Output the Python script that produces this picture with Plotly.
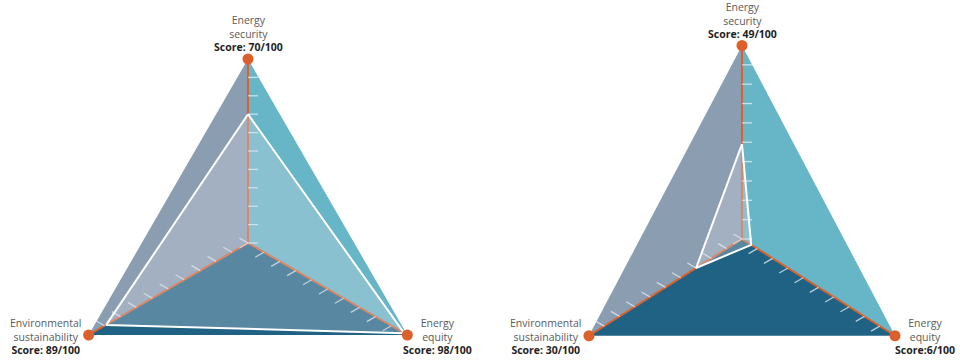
import numpy as np
import plotly.graph_objects as go

# ---------------- data ----------------
categories = ["Energy security", "Energy equity", "Environmental sustainability"]
category_lines = [["Energy", "security"], ["Energy", "equity"], ["Environmental", "sustainability"]]
scores_a = [70, 98, 89]
scores_b = [49, 6, 30]
score_text_a = ["Score: 70/100", "Score: 98/100", "Score: 89/100"]
score_text_b = ["Score: 49/100", "Score:6/100", "Score: 30/100"]
score_max = 100
tick_values = [0, 10, 20, 30, 40, 50, 60, 70, 80, 90]

# ---------------- geometry / style ----------------
AXIS_ANGLES = [90, 330, 210]      # direction of each category axis (deg)
TICK_DIRS = [0, 210, 150]         # direction of the small tick marks (deg)
TICK_PX = 10
SECTORS = [((0, 2), "#8a9db1"), ((0, 1), "#67b6c7"), ((2, 1), "#1f6283")]
ORANGE = "#dc602b"
OVERLAY = "rgba(215,218,228,0.31)"
FONT = "Open Sans"

panels = [
    dict(scores=scores_a, texts=score_text_a, xa="x", ya="y", dom=[0.0, 0.5],
         cx=248, cy=243, sx=184.0, sy=184.0),
    dict(scores=scores_b, texts=score_text_b, xa="x2", ya="y2", dom=[0.5, 1.0],
         cx=742, cy=239, sx=176.7, sy=193.5),
]

W, H = 960, 362
ang = np.radians(AXIS_ANGLES)


def pt(v, k):
    r = v / score_max
    return r * np.cos(ang[k]), r * np.sin(ang[k])


fig = go.Figure()
annotations = []
label_shift = [dict(xs=0, ys=25.5), dict(xs=30, ys=-1), dict(xs=-43, ys=-1)]

for p in panels:
    xa, ya = p["xa"], p["ya"]
    # sector fills
    for (i, j), col in SECTORS:
        xi, yi = pt(score_max, i)
        xj, yj = pt(score_max, j)
        fig.add_trace(go.Scatter(x=[0, xi, xj, 0], y=[0, yi, yj, 0], fill="toself",
                                 fillcolor=col, mode="none", xaxis=xa, yaxis=ya,
                                 hoverinfo="skip"))
    # orange spokes
    for k in range(3):
        xv, yv = pt(score_max, k)
        fig.add_trace(go.Scatter(x=[0, xv], y=[0, yv], mode="lines",
                                 line=dict(color=ORANGE, width=2), xaxis=xa, yaxis=ya,
                                 hoverinfo="skip"))
    # tick marks
    tx, ty = [], []
    for k in range(3):
        d = np.radians(TICK_DIRS[k])
        for tv in tick_values:
            x0, y0 = pt(tv, k)
            tx += [x0, x0 + TICK_PX / p["sx"] * np.cos(d), None]
            ty += [y0, y0 + TICK_PX / p["sy"] * np.sin(d), None]
    fig.add_trace(go.Scatter(x=tx, y=ty, mode="lines",
                             line=dict(color="rgba(235,240,245,0.75)", width=1.3),
                             xaxis=xa, yaxis=ya, hoverinfo="skip"))
    # score triangle
    sx_, sy_ = [], []
    for k in range(3):
        a, b = pt(p["scores"][k], k)
        sx_.append(a)
        sy_.append(b)
    sx_.append(sx_[0])
    sy_.append(sy_[0])
    fig.add_trace(go.Scatter(x=sx_, y=sy_, fill="toself", fillcolor=OVERLAY, mode="lines",
                             line=dict(color="white", width=2), xaxis=xa, yaxis=ya,
                             hoverinfo="skip"))
    # vertex dots
    vx, vy = zip(*[pt(score_max, k) for k in range(3)])
    fig.add_trace(go.Scatter(x=list(vx), y=list(vy), mode="markers",
                             marker=dict(color=ORANGE, size=11), cliponaxis=False,
                             xaxis=xa, yaxis=ya, text=categories, hoverinfo="text"))
    # labels (one text block per axis)
    for k in range(3):
        txt = ("<span style='color:#5a5a5a'>" + "<br>".join(category_lines[k]) +
               "</span><br><b>" + p["texts"][k] + "</b>")
        annotations.append(dict(
            x=vx[k], y=vy[k], xref=xa, yref=ya, text=txt, align="center",
            showarrow=False, xanchor="center", yanchor="middle",
            xshift=label_shift[k]["xs"], yshift=label_shift[k]["ys"],
            font=dict(family=FONT, size=10.5, color="#1e1e1e")))

layout = dict(width=W, height=H, margin=dict(l=0, r=0, t=0, b=0),
              paper_bgcolor="white", plot_bgcolor="white", showlegend=False,
              annotations=annotations)
for idx, p in enumerate(panels):
    left_px = p["dom"][0] * W
    wpx = (p["dom"][1] - p["dom"][0]) * W
    x0 = -(p["cx"] - left_px) / p["sx"]
    y0 = -(H - p["cy"]) / p["sy"]
    sfx = "" if idx == 0 else str(idx + 1)
    layout["xaxis" + sfx] = dict(domain=p["dom"], range=[x0, x0 + wpx / p["sx"]],
                                 visible=False, fixedrange=True, anchor="y" + sfx)
    layout["yaxis" + sfx] = dict(domain=[0, 1], range=[y0, y0 + H / p["sy"]],
                                 visible=False, fixedrange=True, anchor="x" + sfx)
fig.update_layout(**layout)

fig.write_html("out.html", config={"displayModeBar": False},
               post_script="document.body.style.margin='0';"
                           "document.body.style.overflow='hidden';")
